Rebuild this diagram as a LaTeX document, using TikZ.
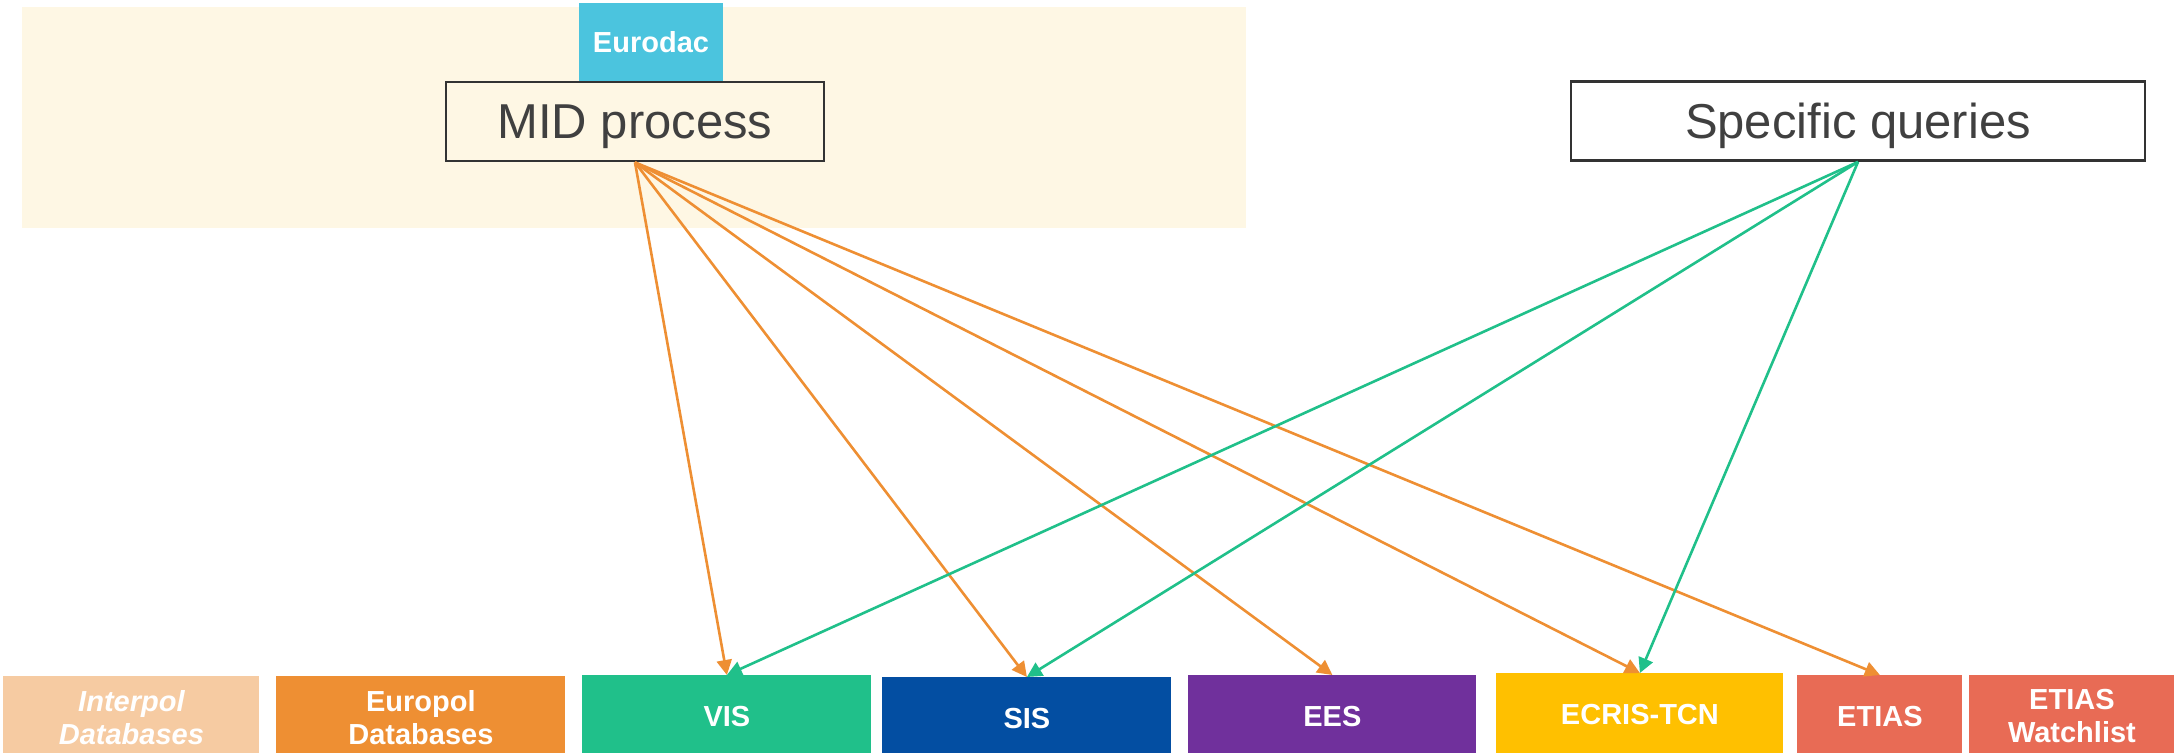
\documentclass[tikz,border=0pt]{standalone}
\usepackage{fontspec}
\setmainfont{Liberation Sans}
\usetikzlibrary{arrows.meta}

\definecolor{midbg}{HTML}{FEF7E4}
\definecolor{eurodacblue}{HTML}{4BC4DE}
\definecolor{interpolpeach}{HTML}{F6CBA2}
\definecolor{europolorange}{HTML}{EE8F33}
\definecolor{visgreen}{HTML}{20C08A}
\definecolor{sisblue}{HTML}{034EA2}
\definecolor{eespurple}{HTML}{70309C}
\definecolor{ecrisyellow}{HTML}{FFC000}
\definecolor{etiasred}{HTML}{E86B55}
\definecolor{boxline}{HTML}{333333}
\definecolor{textgrey}{HTML}{404040}

\begin{document}
\begin{tikzpicture}[x=0.5pt,y=-0.5pt,>={Triangle[length=7.5pt,width=7.5pt]},
    db node/.style={anchor=north west,inner sep=0pt,minimum height=41pt,text=white,align=center,font=\bfseries\fontsize{14.5}{16.5}\selectfont},
    query node/.style={draw=boxline,line width=1.4pt,inner sep=0pt,minimum height=39.5pt,text depth=0pt,text=textgrey,font=\fontsize{24.5}{28}\selectfont},
    mid arrow/.style={->,draw=europolorange,line width=1.3pt},
    sq arrow/.style={->,draw=visgreen,line width=1.3pt}]
    \useasboundingbox (0,0) rectangle (2174,752);
    \clip (0,0) rectangle (2174,752);

    % MID area
    \fill[midbg] (22,7) rectangle (1246,228);
    \node[fill=eurodacblue, inner sep=0pt, minimum width=72pt, minimum height=39pt, text=white, font=\bfseries\fontsize{14.5}{16.5}\selectfont] (eurodac) at (651,42) {Eurodac};
    \node[query node, fill=midbg, minimum width=189pt] (mid) at (635,121.5) {MID process};
    \node[query node, minimum width=287pt] (queries) at (1858,121) {Specific queries};

    % databases
    \node[db node, fill=interpolpeach, minimum width=128pt, font=\bfseries\itshape\fontsize{14.5}{16.5}\selectfont] (interpol) at (3,676) {Interpol\\Databases};
    \node[db node, fill=europolorange, minimum width=144.5pt] (europol) at (276,676) {Europol\\Databases};
    \node[db node, fill=visgreen, minimum width=144.5pt] (vis) at (582,675) {VIS};
    \node[db node, fill=sisblue, minimum width=144.5pt] (sis) at (882,677) {SIS};
    \node[db node, fill=eespurple, minimum width=144pt] (ees) at (1188,675) {EES};
    \node[db node, fill=ecrisyellow, minimum width=143.5pt] (ecris) at (1496,673) {ECRIS-TCN};
    \node[db node, fill=etiasred, minimum width=82.5pt] (etias) at (1797,675) {ETIAS};
    \node[db node, fill=etiasred, minimum width=102.5pt] (watchlist) at (1969,675) {ETIAS\\Watchlist};

    % queries
    \foreach \db in {vis,sis,ees,ecris,etias}
        \draw[mid arrow] (mid.south) -- (\db.north);
    \foreach \db in {vis,sis,ecris}
        \draw[sq arrow] (queries.south) -- (\db.north);
\end{tikzpicture}
\end{document}
